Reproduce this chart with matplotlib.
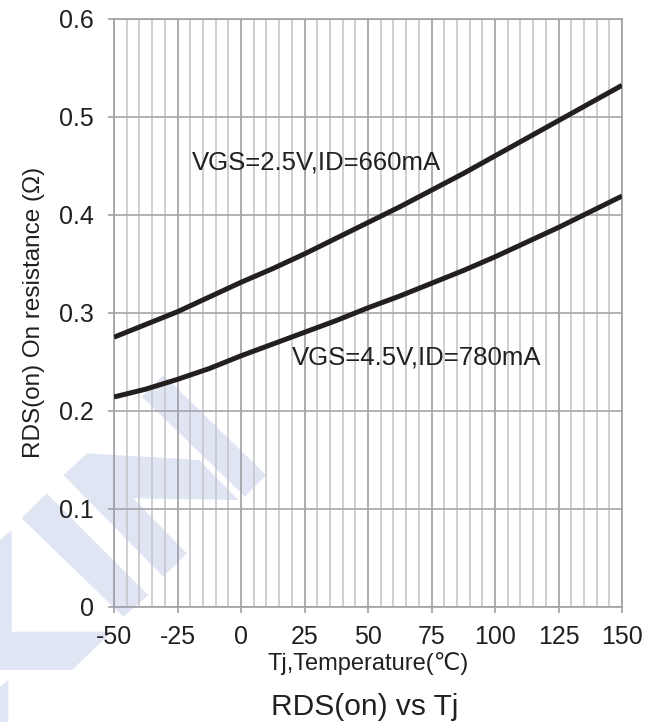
import matplotlib
matplotlib.use('Agg')
import matplotlib.pyplot as plt
from matplotlib.patches import Polygon
from matplotlib.ticker import MultipleLocator
from matplotlib.transforms import IdentityTransform

plt.rcParams['font.family'] = ['Liberation Sans', 'DejaVu Sans', 'Noto Sans CJK SC']
plt.rcParams['axes.unicode_minus'] = False

# Data
temps = [-50, -37.5, -25, -12.5, 0, 12.5, 25, 37.5, 50, 62.5, 75, 87.5, 100, 112.5, 125, 137.5, 150]
rds_25v = [0.275, 0.288, 0.301, 0.316, 0.331, 0.345, 0.360, 0.376, 0.392, 0.408,
           0.425, 0.442, 0.460, 0.478, 0.496, 0.514, 0.532]
rds_45v = [0.214, 0.222, 0.232, 0.243, 0.256, 0.268, 0.280, 0.292, 0.305, 0.317,
           0.330, 0.343, 0.357, 0.372, 0.387, 0.403, 0.419]
label_25v = 'VGS=2.5V,ID=660mA'
label_45v = 'VGS=4.5V,ID=780mA'
x_ticks = [-50, -25, 0, 25, 50, 75, 100, 125, 150]
y_ticks = [0, 0.1, 0.2, 0.3, 0.4, 0.5, 0.6]
y_tick_labels = ['0', '0.1', '0.2', '0.3', '0.4', '0.5', '0.6']

W, H = 657, 722
fig = plt.figure(figsize=(W / 100, H / 100), dpi=100)
ax = fig.add_axes([114 / W, 1 - 606.7 / H, 508 / W, 588 / H])
ax.set_facecolor('none')

# light blue watermark in the background (pixel coords, y from top)
wm_color = '#dfe5f3'
shapes = [
    [(141.7, 396.7), (163.3, 375), (266, 475), (245, 496.7)],
    [(87.3, 453.3), (199.3, 460), (238.3, 500), (133.3, 498.3),
     (186.7, 553.3), (163.3, 576.7), (63.3, 475)],
    [(21.7, 518.3), (46.7, 493.3), (148.3, 595), (123.3, 616.7)],
    [(0, 540), (11.7, 530), (11.7, 631.7), (112, 631.7), (72, 670), (0, 670)],
    [(0, 686.7), (8.3, 680), (8.3, 722), (0, 722)],
]
for pts in shapes:
    poly = Polygon([(x, H - y) for x, y in pts], closed=True, facecolor=wm_color,
                   edgecolor='none', transform=IdentityTransform(), zorder=-1)
    fig.patches.append(poly)

ax.plot(temps, rds_25v, color='#231f20', lw=3.6, solid_capstyle='butt', zorder=3)
ax.plot(temps, rds_45v, color='#231f20', lw=3.6, solid_capstyle='butt', zorder=3)

ax.text(-19.3, 0.4528, label_25v, fontsize=18.5, color='#231f20', va='center', ha='left')
ax.text(20.1, 0.2538, label_45v, fontsize=18.5, color='#231f20', va='center', ha='left')

ax.set_xlim(-50, 150)
ax.set_ylim(0, 0.6)
ax.set_xticks(x_ticks)
ax.xaxis.set_minor_locator(MultipleLocator(5))
ax.set_yticks(y_ticks)
ax.set_yticklabels(y_tick_labels)

ax.set_axisbelow(True)
ax.grid(which='minor', axis='x', color='#c6c6cc', lw=1.2)
ax.grid(which='major', axis='x', color='#9e9ea4', lw=1.2)
ax.grid(which='major', axis='y', color='#a4a4aa', lw=1.2)

for s in ax.spines.values():
    s.set_color('#a0a0a6')
    s.set_linewidth(1.2)

ax.tick_params(axis='both', which='major', length=4.5, width=1.2, color='#a0a0a6',
               labelsize=18, labelcolor='#231f20')
ax.tick_params(axis='x', which='major', pad=9)
ax.tick_params(axis='y', which='major', pad=10)
ax.tick_params(which='minor', length=0)

ax.set_xlabel('Tj,Temperature(\u2103)', fontsize=17, color='#231f20', labelpad=2)
ax.set_ylabel('RDS(on) On resistance (\u03a9)', fontsize=17.5, color='#231f20', labelpad=10)

fig.text(365 / W, 1 - 707 / H, 'RDS(on) vs Tj', fontsize=21.5, color='#231f20',
         ha='center', va='center')

fig.savefig('out.png', dpi=100)
